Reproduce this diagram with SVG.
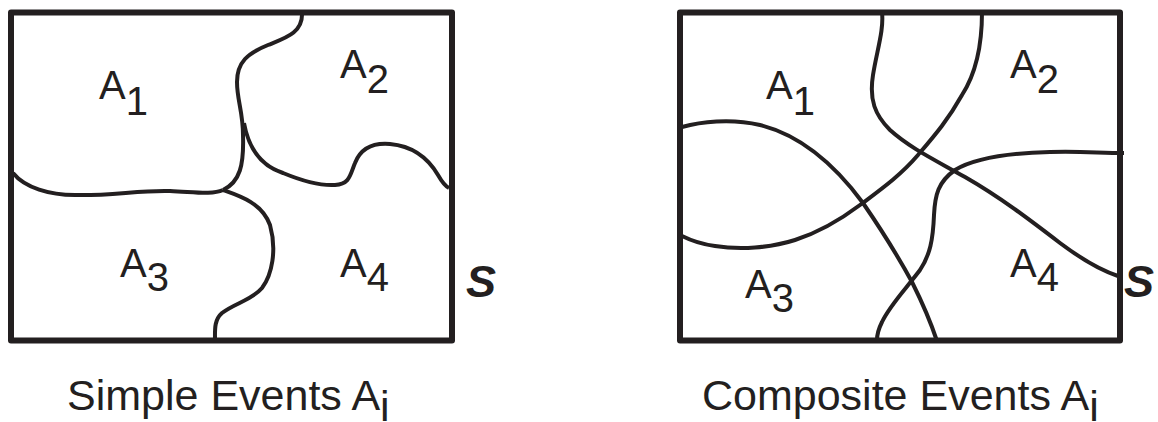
<svg xmlns="http://www.w3.org/2000/svg" width="1158" height="422" viewBox="0 0 1158 422">
<style>
.box{fill:none;stroke:#231f20;stroke-width:6;stroke-linejoin:round}
.c{fill:none;stroke:#231f20;stroke-width:4;stroke-linecap:butt}
.lbl{font-family:"Liberation Sans",Arial,sans-serif;font-size:40px;fill:#231f20}
.s{font-family:"Liberation Sans",Arial,sans-serif;font-size:45px;font-weight:bold;font-style:italic;fill:#231f20}
.cap{font-family:"Liberation Sans",Arial,sans-serif;font-size:43px;fill:#231f20}
</style>
<rect width="1158" height="422" fill="#ffffff"/>
<g id="simple">
<rect class="box" x="11" y="12.5" width="441" height="328"/>
<g id="connectors-simple">
<path class="c" d="M302,13 C303,33 285,38 268,45 C248,53 237,62 237,82 C237,100 243,112 243,135 C244,165 240,182 223,190"/>
<path class="c" d="M13,173 C25,188 50,195 75,195 C110,196 140,190 170,191 C195,192 212,195 223,190"/>
<path class="c" d="M223,190 C240,196 262,203 270,225 C277,250 272,275 262,288 C252,300 235,303 222,313 C214,320 215,330 215,340"/>
<path class="c" d="M244,123 C248,145 258,165 283,173 C300,180 320,186 335,185 C350,184 350,175 355,163 C362,145 378,143 390,144 C412,146 428,158 438,175 C442,182 445,186 449,188"/>
</g>
<text class="lbl" x="99" y="99">A<tspan dy="16">1</tspan></text>
<text class="lbl" x="340" y="78">A<tspan dy="15">2</tspan></text>
<text class="lbl" x="120" y="277">A<tspan dy="14">3</tspan></text>
<text class="lbl" x="340" y="277">A<tspan dy="14">4</tspan></text>
<text class="s" x="466" y="297">S</text>
<text class="cap" x="67" y="410">Simple Events A<tspan dy="11">i</tspan></text>
</g>
<g id="composite">
<rect class="box" x="680" y="12.5" width="440" height="328"/>
<g id="connectors-composite">
<path class="c" d="M882,12 C884,30 877,50 873,75 C869,100 875,115 890,130 C910,148 935,160 965,177 C1000,197 1030,220 1060,243 C1080,258 1100,270 1118,276"/>
<path class="c" d="M982,12 C982,50 975,75 962,95 C948,120 935,135 918,155 C900,176 880,190 860,205 C840,220 820,232 795,240 C770,248 740,250 715,246 C700,244 690,240 682,236"/>
<path class="c" d="M682,127 C700,122 730,118 760,125 C800,135 835,165 863,203 C885,235 900,260 912,282 C922,302 930,320 937,341"/>
<path class="c" d="M1124,153 C1100,153 1080,151 1050,152 C1010,153 975,158 955,170 C938,182 935,195 934,215 C933,240 930,255 920,270 C905,290 890,305 882,322 C878,330 877,335 877,340"/>
</g>
<text class="lbl" x="766" y="99">A<tspan dy="16">1</tspan></text>
<text class="lbl" x="1010" y="78">A<tspan dy="15">2</tspan></text>
<text class="lbl" x="745" y="298">A<tspan dy="14">3</tspan></text>
<text class="lbl" x="1010" y="277">A<tspan dy="14">4</tspan></text>
<text class="s" x="1124" y="297">S</text>
<text class="cap" x="702" y="410">Composite Events A<tspan dy="11">i</tspan></text>
</g>
</svg>
